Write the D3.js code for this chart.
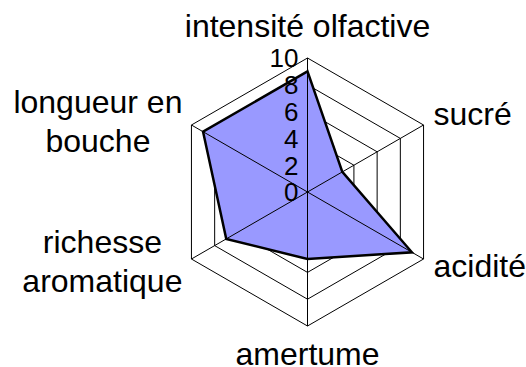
<!DOCTYPE html>
<html>
<head>
<meta charset="utf-8">
<script src="https://cdn.jsdelivr.net/npm/d3@7"></script>
<style>
  html, body { margin: 0; padding: 0; background: #fff; }
  svg { display: block; font-family: "Liberation Sans", Arial, sans-serif; }
</style>
</head>
<body>
<div id="chart"></div>
<script>
(function () {
  // ---------- data ----------
  const axes = [
    ['intensité olfactive'],
    ['sucré'],
    ['acidité'],
    ['amertume'],
    ['richesse', 'aromatique'],
    ['longueur en', 'bouche']
  ];
  const values = [9, 3, 9, 5, 7, 9];
  const ticks = [0, 2, 4, 6, 8, 10];

  // ---------- layout ----------
  const width = 526, height = 367;
  const cx = 307.5, cy = 192, R = 134;
  const lineH = 38.7;

  const svg = d3.select('#chart').append('svg')
    .attr('width', width)
    .attr('height', height);

  const r = d3.scaleLinear().domain([0, 10]).range([0, R]);
  const angle = i => i * Math.PI * 2 / axes.length;
  const pt = (i, v) => [cx + r(v) * Math.sin(angle(i)), cy - r(v) * Math.cos(angle(i))];

  const g = svg.append('g');

  // rings (under the area)
  g.selectAll('path.ring')
    .data(ticks.filter(t => t > 0))
    .enter().append('path')
    .attr('class', 'ring')
    .attr('d', t => d3.line()(axes.map((_, i) => pt(i, t))) + 'Z')
    .attr('fill', 'none')
    .attr('stroke', '#000')
    .attr('stroke-width', 1);

  // series area
  g.append('path')
    .attr('d', d3.line()(values.map((v, i) => pt(i, v))) + 'Z')
    .attr('fill', '#9999ff')
    .attr('stroke', '#000')
    .attr('stroke-width', 2.5)
    .attr('stroke-linejoin', 'miter');

  // spokes (over the area)
  g.selectAll('line.spoke')
    .data(axes)
    .enter().append('line')
    .attr('class', 'spoke')
    .attr('x1', cx).attr('y1', cy)
    .attr('x2', (_, i) => pt(i, 10)[0])
    .attr('y2', (_, i) => pt(i, 10)[1])
    .attr('stroke', '#000')
    .attr('stroke-width', 1);

  // tick labels along the top axis
  g.selectAll('text.tick')
    .data(ticks)
    .enter().append('text')
    .attr('class', 'tick')
    .attr('x', cx - 9)
    .attr('y', t => cy - r(t))
    .attr('dy', '0.36em')
    .attr('text-anchor', 'end')
    .attr('font-size', 26)
    .attr('fill', '#000')
    .text(t => t);

  // category labels
  const fs = 32;
  axes.forEach((lines, i) => {
    const [vx, vy] = pt(i, 10);
    const grp = svg.append('g').attr('font-size', fs).attr('fill', '#000');
    const texts = lines.map(s => grp.append('text').text(s));
    const maxW = d3.max(texts, t => t.node().getComputedTextLength());
    let x, y0, anchor = 'middle';
    if (i === 0) { x = cx; y0 = vy - 21.5; }
    else if (i === 1) { x = vx + 10; y0 = vy; anchor = 'start'; }
    else if (i === 2) { x = vx + 10; y0 = vy + 18; anchor = 'start'; }
    else if (i === 3) { x = cx; y0 = vy + 39; }
    else if (i === 4) { x = vx - 9 - maxW / 2; y0 = vy - 6; }
    else { x = vx - 9 - maxW / 2; y0 = vy - 12; }
    texts.forEach((t, k) => t
      .attr('x', x)
      .attr('y', y0 + k * lineH)
      .attr('text-anchor', anchor));
  });
})();
</script>
</body>
</html>
